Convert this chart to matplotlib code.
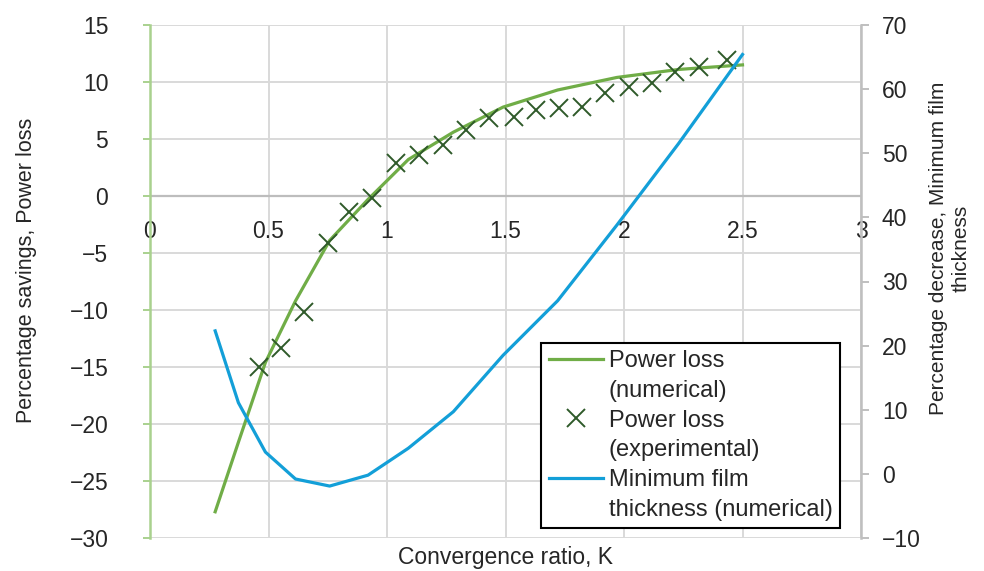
import numpy as np
import matplotlib
matplotlib.use('Agg')
from matplotlib import pyplot as plt
from matplotlib.lines import Line2D

plt.rcParams['font.family'] = ['Liberation Sans', 'DejaVu Sans']

# numerical curves (same K values for both)
kNum = [0.275, 0.373, 0.487, 0.614, 0.758, 0.92, 1.09, 1.28, 1.49, 1.72, 1.97, 2.23, 2.5]
powerNum = [-27.7, -21.6, -14.6, -9.2, -3.9, -0.3, 3.2, 5.6, 7.8, 9.3, 10.4, 11.1, 11.5]
filmNum = [22.3, 11.1, 3.4, -0.8, -1.9, -0.2, 4.0, 9.7, 18.5, 27.0, 38.8, 51.5, 65.4]

# experimental power loss
kExp = [0.458, 0.551, 0.648, 0.75, 0.839, 0.936, 1.038, 1.136, 1.237, 1.335, 1.432,
        1.534, 1.627, 1.725, 1.822, 1.92, 2.02, 2.12, 2.216, 2.318, 2.436]
powerExp = [-15.0, -13.3, -10.2, -4.1, -1.4, -0.2, 2.9, 3.6, 4.5, 5.8, 6.8,
            6.9, 7.5, 7.7, 7.8, 9.0, 9.6, 9.9, 10.9, 11.3, 11.9]

xTicks = [0, 0.5, 1, 1.5, 2, 2.5, 3]
xTickLabels = ['0', '0.5', '1', '1.5', '2', '2.5', '3']
yTicks = np.arange(-30, 16, 5)
y2Ticks = np.arange(-10, 71, 10)

green = '#70ad47'
blue = '#139fd8'
dkgreen = '#2f5a2a'
fs = 16.5
txt = '#262626'

fig = plt.figure(figsize=(9.84, 5.71), dpi=100)
ax = fig.add_axes([150/984, 1-538/571, 711/984, 513/571])
ax2 = ax.twinx()

ax.set_xlim(0, 3)
ax.set_ylim(-30, 15)
ax2.set_ylim(-10, 70)

# grid
ax.set_yticks(yTicks)
ax.set_xticks(xTicks)
ax.set_xticklabels(xTickLabels)
ax.grid(True, color='#d9d9d9', lw=1.4, zorder=0)
ax.axhline(0, color='#bdbdbd', lw=1.6, zorder=1)
ax.set_axisbelow(True)

# x tick labels sit under the zero line
ax.spines['bottom'].set_position(('data', 0))
ax.spines['bottom'].set_visible(False)
ax.spines['top'].set_visible(False)
ax.spines['right'].set_visible(False)
ax.spines['left'].set_color('#a9d18e')
ax.spines['left'].set_linewidth(1.8)
ax.tick_params(axis='x', length=0, pad=17, labelsize=fs, labelcolor=txt)
ax.tick_params(axis='y', length=5, width=1.4, color='#a9d18e', direction='out',
               pad=25, labelsize=fs, labelcolor=txt)

ax2.spines['top'].set_visible(False)
ax2.spines['bottom'].set_visible(False)
ax2.spines['left'].set_visible(False)
ax2.spines['right'].set_color('#bfbfbf')
ax2.spines['right'].set_linewidth(1.8)
ax2.set_yticks(y2Ticks)
ax2.tick_params(axis='y', length=6, width=1.4, color='#bfbfbf', direction='out',
                pad=9, labelsize=fs, labelcolor=txt)

ax.plot(kNum, powerNum, color=green, lw=2.3, zorder=3)
ax.plot(kExp, powerExp, ls='none', marker='x', ms=13, mew=1.4, color=dkgreen, zorder=4)
ax2.plot(kNum, filmNum, color=blue, lw=2.3, zorder=3)

ax.text(0.5, -0.016, 'Convergence ratio, K', transform=ax.transAxes,
        ha='center', va='top', fontsize=fs, color=txt)
fig.text(27/984, 1-270/571, 'Percentage savings, Power loss', rotation=90,
         ha='center', va='center', fontsize=15.5, color=txt)
fig.text(950/984, 1-248/571, 'Percentage decrease, Minimum film\nthickness', rotation=90,
         ha='center', va='center', ma='center', fontsize=15, color=txt,
         linespacing=1.25)

# legend: handle on first line of each two-line label
blank = Line2D([], [], color='none')
handles = [Line2D([], [], color=green, lw=2.3), blank,
           Line2D([], [], ls='none', marker='x', ms=13, mew=1.4, color=dkgreen), blank,
           Line2D([], [], color=blue, lw=2.3), blank]
labels = ['Power loss', '(numerical)', 'Power loss', '(experimental)',
          'Minimum film', 'thickness (numerical)']
leg = ax2.legend(handles, labels, loc='lower right', bbox_to_anchor=(0.97, 0.0195),
                 borderaxespad=0, fontsize=17, frameon=True, fancybox=False,
                 edgecolor='black', framealpha=1, labelspacing=0.33,
                 handlelength=2.3, handletextpad=0.25, borderpad=0.3)
leg.get_frame().set_linewidth(1.5)
for t in leg.get_texts():
    t.set_color(txt)

fig.savefig('out.png', dpi=100)
